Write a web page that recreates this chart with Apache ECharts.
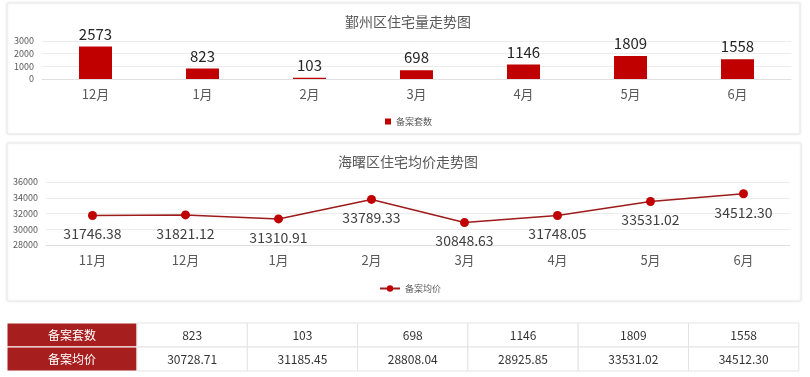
<!DOCTYPE html>
<html>
<head>
<meta charset="utf-8">
<script src="https://cdn.jsdelivr.net/npm/echarts@6/dist/echarts.min.js"></script>
<style>
  html, body { margin: 0; padding: 0; background: #fff; }
  #main { width: 810px; height: 377px; }
</style>
</head>
<body>
<div id="main"></div>
<script>
// 鄞州区住宅量
const volMonths = ['12月', '1月', '2月', '3月', '4月', '5月', '6月']
const volValues = [2573, 823, 103, 698, 1146, 1809, 1558]
// 海曙区住宅均价
const priceMonths = ['11月', '12月', '1月', '2月', '3月', '4月', '5月', '6月']
const priceValues = [31746.38, 31821.12, 31310.91, 33789.33, 30848.63, 31748.05, 33531.02, 34512.30]
// 底部表格
const tableRowNames = ['备案套数', '备案均价']
const tableCount = ['823', '103', '698', '1146', '1809', '1558']
const tablePrice = ['30728.71', '31185.45', '28808.04', '28925.85', '33531.02', '34512.30']

const font = '"Noto Sans CJK SC", "Noto Sans", sans-serif'
const gray = '#595959'

var chart = echarts.init(document.getElementById('main'))

// 表格
var tableGraphic = []
var tLeft = 7, tTop = 323, rowH = 24, headW = 130, colW = 110.3
var rows = [tableCount, tablePrice]
for (let r = 0; r < rows.length; r++) {
  tableGraphic.push({
    type: 'rect',
    shape: { x: tLeft, y: tTop + r * rowH, width: headW, height: rowH },
    style: { fill: '#a61e1e', stroke: '#fff', lineWidth: 1 }
  })
  tableGraphic.push({
    type: 'text',
    x: tLeft + headW / 2, y: tTop + r * rowH + rowH / 2,
    style: { text: tableRowNames[r], fill: '#fff', font: '12px ' + font, align: 'center', verticalAlign: 'middle' }
  })
  for (let c = 0; c < rows[r].length; c++) {
    var x0 = tLeft + headW + c * colW
    tableGraphic.push({
      type: 'rect',
      shape: { x: x0, y: tTop + r * rowH, width: colW, height: rowH },
      style: { fill: '#fff', stroke: '#e3e3e3', lineWidth: 1 }
    })
    tableGraphic.push({
      type: 'text',
      x: x0 + colW / 2, y: tTop + r * rowH + rowH / 2,
      style: { text: rows[r][c], fill: '#333', font: '12px ' + font, align: 'center', verticalAlign: 'middle' }
    })
  }
}

var option = {
  animation: false,
  textStyle: { fontFamily: font },
  graphic: [
    {
      type: 'rect', z: -10,
      shape: { x: 7, y: 3, width: 793, height: 131 },
      style: { fill: '#fff', stroke: '#e8e8e8', lineWidth: 1, shadowBlur: 3, shadowColor: 'rgba(0,0,0,0.08)' }
    },
    {
      type: 'rect', z: -10,
      shape: { x: 7, y: 143, width: 794, height: 158 },
      style: { fill: '#fff', stroke: '#e8e8e8', lineWidth: 1, shadowBlur: 3, shadowColor: 'rgba(0,0,0,0.08)' }
    }
  ].concat(tableGraphic),
  title: [
    {
      text: '鄞州区住宅量走势图',
      left: 403, top: 10, textAlign: 'center',
      textStyle: { fontSize: 14, fontWeight: 'normal', color: gray, fontFamily: font }
    },
    {
      text: '海曙区住宅均价走势图',
      left: 403, top: 150, textAlign: 'center',
      textStyle: { fontSize: 14, fontWeight: 'normal', color: gray, fontFamily: font }
    }
  ],
  legend: [
    {
      data: ['备案套数'],
      left: 380, top: 112,
      itemWidth: 6, itemHeight: 6, itemGap: 4,
      icon: 'rect',
      textStyle: { fontSize: 9, color: gray }
    },
    {
      data: ['备案均价'],
      left: 374, top: 279,
      itemWidth: 20, itemHeight: 8,
      textStyle: { fontSize: 9, color: gray }
    }
  ],
  grid: [
    { left: 42, right: 19, top: 41, bottom: 298 },
    { left: 46, right: 20, top: 182, bottom: 132 }
  ],
  xAxis: [
    {
      gridIndex: 0, type: 'category', data: volMonths,
      axisTick: { show: false },
      axisLine: { lineStyle: { color: '#e0e0e0' } },
      axisLabel: { color: gray, fontSize: 13, margin: 9 }
    },
    {
      gridIndex: 1, type: 'category', data: priceMonths,
      axisTick: { show: false },
      axisLine: { lineStyle: { color: '#e0e0e0' } },
      axisLabel: { color: gray, fontSize: 13, margin: 9 }
    }
  ],
  yAxis: [
    {
      gridIndex: 0, type: 'value', min: 0, max: 3000, interval: 1000,
      axisLabel: { color: gray, fontSize: 9, margin: 8, formatter: function (v) { return String(v) } },
      splitLine: { lineStyle: { color: '#ececec' } }
    },
    {
      gridIndex: 1, type: 'value', min: 28000, max: 36000, interval: 2000,
      axisLabel: { color: gray, fontSize: 9, margin: 8, formatter: function (v) { return String(v) } },
      splitLine: { lineStyle: { color: '#ececec' } }
    }
  ],
  series: [
    {
      name: '备案套数',
      type: 'bar',
      xAxisIndex: 0, yAxisIndex: 0,
      barWidth: 33,
      itemStyle: { color: '#c00000' },
      label: { show: true, position: 'top', distance: 5, fontSize: 15, color: '#262626' },
      data: volValues
    },
    {
      name: '备案均价',
      type: 'line',
      xAxisIndex: 1, yAxisIndex: 1,
      symbol: 'circle',
      symbolSize: 9,
      lineStyle: { color: '#9e1b1b', width: 1.5 },
      itemStyle: { color: '#c00000' },
      label: {
        show: true, position: 'bottom', distance: 7, fontSize: 14, color: '#404040',
        formatter: function (p) { return p.value.toFixed(2) }
      },
      data: priceValues
    }
  ]
}
chart.setOption(option)
</script>
</body>
</html>
